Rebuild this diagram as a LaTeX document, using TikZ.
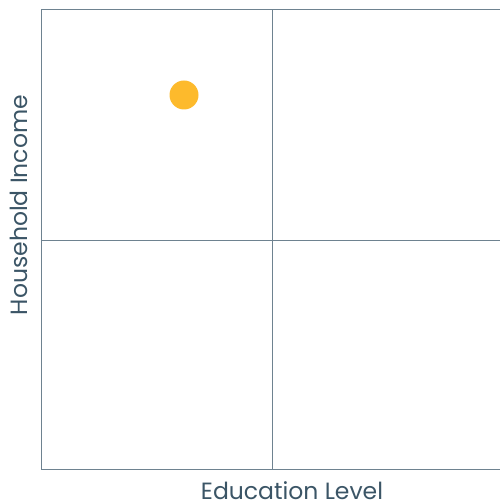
\documentclass[tikz,border=0pt]{standalone}
\usepackage{fontspec}
\setmainfont{Poppins}
\definecolor{axisGrey}{HTML}{6E8290}
\definecolor{labelGrey}{HTML}{3B5566}
\definecolor{dotYellow}{HTML}{FDBA2C}
\begin{document}
\begin{tikzpicture}[%%
  x=1pt,y=-1pt,
  lineStyle/.style={-,draw=axisGrey,line width=1pt},%%
  labelStyle/.style={text=labelGrey,font=\fontsize{23.5}{26}\selectfont,inner sep=0pt},%%
  dotStyle/.style={circle,fill=dotYellow,inner sep=0pt,minimum size=29pt}
]
%%
\useasboundingbox (0,0) rectangle (500,502);
\pgfmathsetmacro{\xlow}{41}
\pgfmathsetmacro{\xhigh}{499.5}
\pgfmathsetmacro{\ytop}{9.5}
\pgfmathsetmacro{\ylow}{469.5}
\coordinate (topLeft) at (\xlow,\ytop);
\coordinate (topRight) at (\xhigh,\ytop);
\coordinate (bottomLeft) at (\xlow,\ylow);
\coordinate (bottomRight) at (\xhigh,\ylow);
\coordinate (midTop) at (272.5,\ytop);
\coordinate (midBottom) at (272.5,\ylow);
\coordinate (midLeft) at (\xlow,240.5);
\coordinate (midRight) at (\xhigh,240.5);
%%
%% Draw the frame and the quadrant lines.
\draw[lineStyle] (topRight) -- (topLeft) -- (bottomLeft) -- (bottomRight);
\draw[lineStyle] (midTop) -- (midBottom);
\draw[lineStyle] (midLeft) -- (midRight);
%%
%% Axis labels.
\node[labelStyle,anchor=base] (xLabel) at (292,499) {Education Level};
\node[labelStyle,anchor=base,rotate=90] (yLabel) at (27,205) {Household Income};
%%
%% The data point.
\node[dotStyle] (point) at (184,95) {};

\end{tikzpicture}
\end{document}
